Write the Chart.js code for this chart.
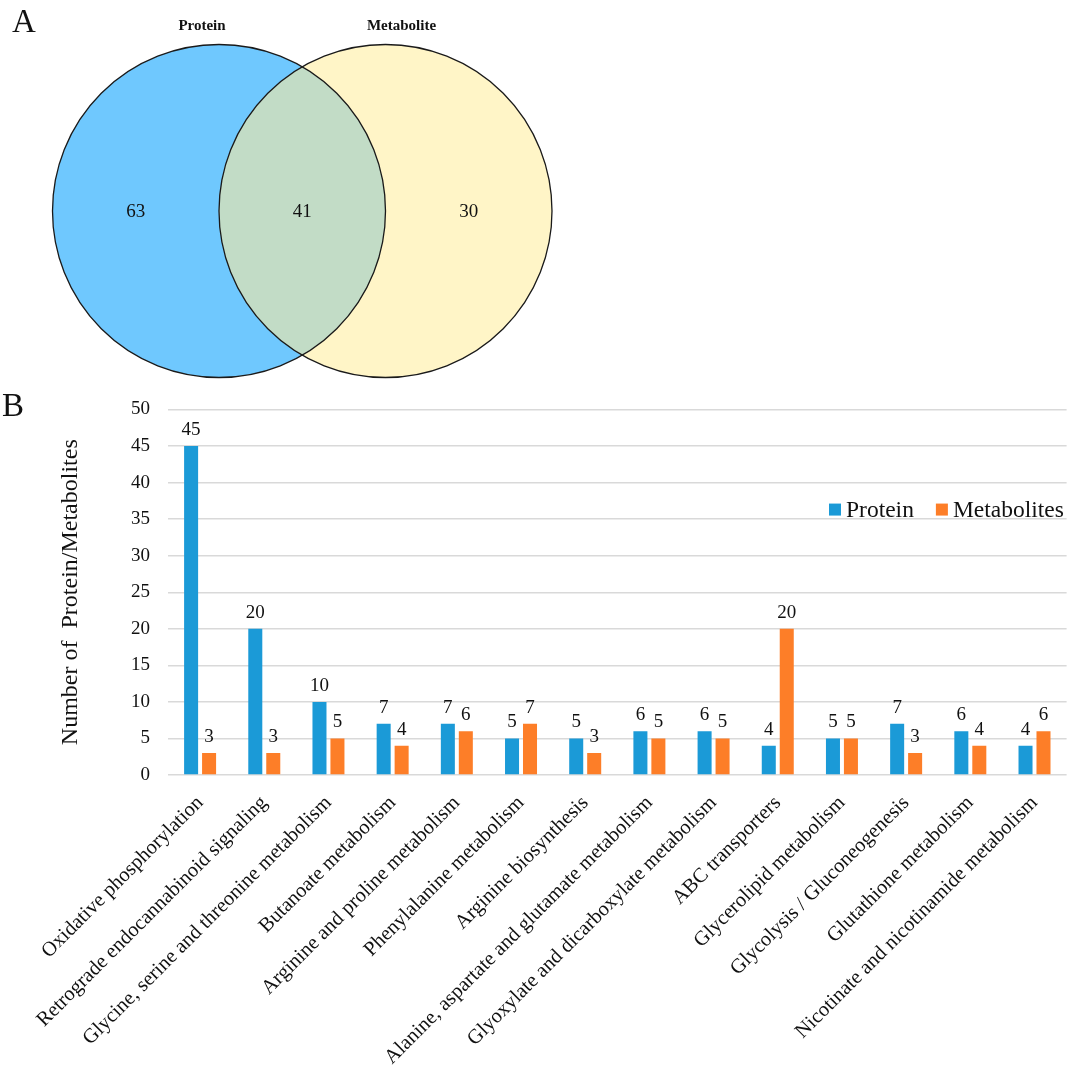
<!DOCTYPE html>
<html>
<head>
<meta charset="utf-8">
<title>Protein / Metabolite pathways</title>
<script src="https://cdn.jsdelivr.net/npm/chart.js@4"></script>
<style>
  body { margin: 0; background: #fff; }
  #wrap { position: relative; width: 1072px; height: 1068px; }
  canvas { position: absolute; left: 0; }
  #venn { top: 0; }
  #bars { top: 380px; }
  .panel { position: absolute; font-family: 'Liberation Serif', serif; font-size: 33px; color: #111; line-height: 1; }
</style>
</head>
<body>
<div id="wrap">
  <canvas id="venn" width="1072" height="380"></canvas>
  <canvas id="bars" width="1072" height="688"></canvas>
  <div class="panel" style="left:12px;top:5px;">A</div>
  <div class="panel" style="left:2px;top:389px;">B</div>
</div>
<script>
// Venn: set names and region counts (only Protein, both, only Metabolite)
const vennSets = ['Protein', 'Metabolite'];
const vennCounts = [63, 41, 30];

// Bar chart data
const pathways = [
  'Oxidative phosphorylation',
  'Retrograde endocannabinoid signaling',
  'Glycine, serine and threonine metabolism',
  'Butanoate metabolism',
  'Arginine and proline metabolism',
  'Phenylalanine metabolism',
  'Arginine biosynthesis',
  'Alanine, aspartate and glutamate metabolism',
  'Glyoxylate and dicarboxylate metabolism',
  'ABC transporters',
  'Glycerolipid metabolism',
  'Glycolysis / Gluconeogenesis',
  'Glutathione metabolism',
  'Nicotinate and nicotinamide metabolism'
];
const proteinCounts    = [45, 20, 10, 7, 7, 5, 5, 6, 6, 4, 5, 7, 6, 4];
const metaboliteCounts = [3, 3, 5, 4, 6, 7, 3, 5, 5, 20, 5, 3, 4, 6];
const yTicks = [0, 5, 10, 15, 20, 25, 30, 35, 40, 45, 50];

const SERIF = "'Liberation Serif', 'Times New Roman', serif";

// ---------- Venn diagram ----------
const vennPlugin = {
  id: 'vennDraw',
  afterDraw(chart) {
    const { ctx, scales: { x, y } } = chart;
    // two equal circles, geometry in scale units
    const r = 166.5;
    const c1 = { x: 219, y: 211 };
    const c2 = { x: 385.5, y: 211 };
    const px = v => x.getPixelForValue(v);
    const py = v => y.getPixelForValue(v);
    const rp = px(c1.x + r) - px(c1.x);

    const circle = c => { ctx.beginPath(); ctx.arc(px(c.x), py(c.y), rp, 0, Math.PI * 2); };

    ctx.save();
    circle(c1); ctx.fillStyle = '#6fc8fe'; ctx.fill();
    circle(c2); ctx.fillStyle = '#fff5c7'; ctx.fill();
    // overlap
    ctx.save();
    circle(c1); ctx.clip();
    circle(c2); ctx.fillStyle = '#c2dcc6'; ctx.fill();
    ctx.restore();
    ctx.lineWidth = 1.3;
    ctx.strokeStyle = '#1a1a1a';
    circle(c1); ctx.stroke();
    circle(c2); ctx.stroke();

    // set names
    ctx.fillStyle = '#111';
    ctx.textAlign = 'center';
    ctx.textBaseline = 'middle';
    ctx.font = 'bold 15px ' + SERIF;
    ctx.fillText(vennSets[0], px(c1.x - 17), py(26));
    ctx.fillText(vennSets[1], px(c2.x + 16), py(26));

    // region counts at region midpoints
    ctx.font = '19px ' + SERIF;
    const mids = [
      (c1.x - r + c2.x - r) / 2,
      (c2.x - r + c1.x + r) / 2,
      (c1.x + r + c2.x + r) / 2
    ];
    vennCounts.forEach((n, i) => ctx.fillText(String(n), px(mids[i]), py(c1.y + 1)));
    ctx.restore();
  }
};

new Chart(document.getElementById('venn'), {
  type: 'scatter',
  data: { datasets: [] },
  options: {
    responsive: false,
    animation: false,
    layout: { padding: 0 },
    plugins: { legend: { display: false }, tooltip: { enabled: false } },
    scales: {
      x: { type: 'linear', min: 0, max: 1072, display: false },
      y: { type: 'linear', min: 0, max: 380, reverse: true, display: false }
    }
  },
  plugins: [vennPlugin]
});

// ---------- Bar chart ----------
// value labels above bars
const valueLabels = {
  id: 'valueLabels',
  afterDatasetsDraw(chart) {
    const { ctx } = chart;
    ctx.save();
    ctx.font = '19px ' + SERIF;
    ctx.fillStyle = '#111';
    ctx.textAlign = 'center';
    ctx.textBaseline = 'alphabetic';
    chart.data.datasets.forEach((ds, i) => {
      chart.getDatasetMeta(i).data.forEach((bar, j) => {
        ctx.fillText(String(ds.data[j]), bar.x, bar.y - 11);
      });
    });
    ctx.restore();
  }
};

// legend drawn inside the plot area, right side
const insideLegend = {
  id: 'insideLegend',
  afterDraw(chart) {
    const { ctx, scales: { y } } = chart;
    const yMid = y.getPixelForValue(36.3);
    let xPos = 829;
    ctx.save();
    ctx.font = '23.5px ' + SERIF;
    ctx.textBaseline = 'middle';
    ctx.textAlign = 'left';
    chart.data.datasets.forEach(ds => {
      ctx.fillStyle = ds.backgroundColor;
      ctx.fillRect(xPos, yMid - 6, 12, 12);
      ctx.fillStyle = '#111';
      ctx.fillText(ds.label, xPos + 17, yMid + 1);
      xPos += 17 + ctx.measureText(ds.label).width + 22;
    });
    ctx.restore();
  }
};

new Chart(document.getElementById('bars'), {
  type: 'bar',
  data: {
    labels: pathways,
    datasets: [
      { label: 'Protein', data: proteinCounts, backgroundColor: '#1b9ad7' },
      { label: 'Metabolites', data: metaboliteCounts, backgroundColor: '#fd7e28' }
    ]
  },
  options: {
    responsive: false,
    animation: false,
    categoryPercentage: 0.56,
    barPercentage: 0.78,
    layout: { padding: { left: 52, top: 25.5, right: 5.4, bottom: 0 } },
    plugins: { legend: { display: false }, tooltip: { enabled: false } },
    scales: {
      x: {
        grid: { display: false },
        border: { display: false },
        ticks: {
          autoSkip: false,
          minRotation: 45,
          maxRotation: 45,
          padding: 8,
          color: '#111',
          font: { family: SERIF, size: 20.5 }
        },
        afterFit(scale) { scale.height = 293; }
      },
      y: {
        min: 0,
        max: 50,
        afterBuildTicks(scale) { scale.ticks = yTicks.map(v => ({ value: v })); },
        border: { display: false },
        grid: { color: '#d9d9d9', lineWidth: 1.4, drawTicks: false },
        ticks: {
          padding: 18,
          color: '#111',
          font: { family: SERIF, size: 19 }
        },
        title: {
          display: true,
          text: 'Number of  Protein/Metabolites',
          color: '#111',
          font: { family: SERIF, size: 24 }
        },
        afterFit(scale) { scale.width = 116; }
      }
    }
  },
  plugins: [valueLabels, insideLegend]
});
</script>
</body>
</html>
